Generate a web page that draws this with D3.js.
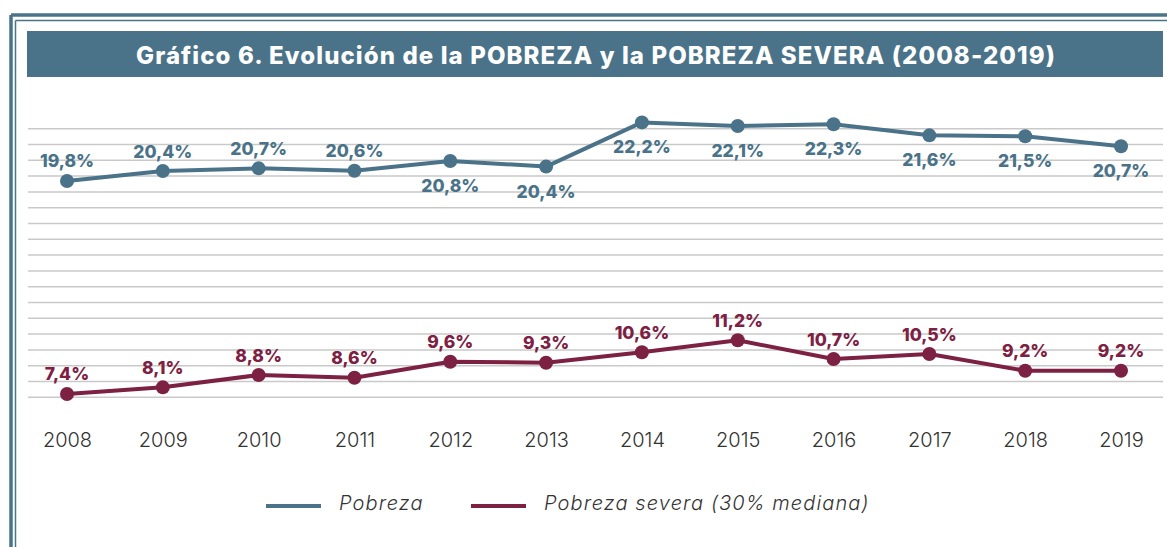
<!DOCTYPE html>
<html>
<head>
<meta charset="utf-8">
<script src="https://cdn.jsdelivr.net/npm/d3@7"></script>
<style>
  body { margin: 0; background: #fff; }
  svg { display: block; }
</style>
</head>
<body>
<svg id="chart" width="1167" height="547"></svg>
<script>
// years on the x axis
var years = ["2008", "2009", "2010", "2011", "2012", "2013", "2014", "2015", "2016", "2017", "2018", "2019"];

// printed labels
var pobreza = [19.8, 20.4, 20.7, 20.6, 20.8, 20.4, 22.2, 22.1, 22.3, 21.6, 21.5, 20.7];
var pobrezaSevera = [7.4, 8.1, 8.8, 8.6, 9.6, 9.3, 10.6, 11.2, 10.7, 10.5, 9.2, 9.2];

// where the points actually sit on the (hidden) grid
var pobrezaPlot = [19.69, 20.32, 20.49, 20.34, 20.96, 20.6, 23.4, 23.17, 23.28, 22.58, 22.52, 21.89];
var severaPlot = [6.21, 6.63, 7.41, 7.24, 8.25, 8.19, 8.85, 9.61, 8.42, 8.74, 7.68, 7.68];

// label above or below the point (upper series)
var pobrezaSide = ["above", "above", "above", "above", "below", "below", "below", "below", "below", "below", "below", "below"];

var legendNames = ["Pobreza", "Pobreza severa (30% mediana)"];
var title = "Gráfico 6. Evolución de la POBREZA y la POBREZA SEVERA (2008-2019)";

var blue = "#4a7389",
    wine = "#7d2143";

var svg = d3.select("#chart"),
    width = +svg.attr("width"),
    height = +svg.attr("height");

var x = d3.scalePoint().domain(years).range([67, 1121]),
    y = d3.scaleLinear().domain([6, 23]).range([397.3, 128.7]);

// frame (double line, top and left)
svg.append("line").attr("x1", 11).attr("x2", width).attr("y1", 15).attr("y2", 15)
    .attr("stroke", blue).attr("stroke-width", 3.5);
svg.append("line").attr("x1", 11).attr("x2", 11).attr("y1", 15).attr("y2", height)
    .attr("stroke", blue).attr("stroke-width", 3.5);
svg.append("line").attr("x1", 15.5).attr("x2", width).attr("y1", 20.5).attr("y2", 20.5)
    .attr("stroke", blue).attr("stroke-width", 1.5);
svg.append("line").attr("x1", 15.5).attr("x2", 15.5).attr("y1", 20.5).attr("y2", height)
    .attr("stroke", blue).attr("stroke-width", 1.5);

// title bar
svg.append("rect")
    .attr("x", 27).attr("y", 31)
    .attr("width", 1136).attr("height", 46)
    .attr("fill", blue);

svg.append("text")
    .attr("x", 596).attr("y", 63.5)
    .attr("text-anchor", "middle")
    .style("font-family", "Inter, sans-serif")
    .style("font-weight", "800")
    .style("font-size", "24px")
    .style("letter-spacing", "1.1px")
    .attr("fill", "#fff")
    .text(title);

// grid
svg.append("g")
    .attr("class", "grid")
    .selectAll("line")
    .data(y.ticks(17))
    .enter().append("line")
    .attr("x1", 28).attr("x2", 1163)
    .attr("y1", function(d) { return y(d); })
    .attr("y2", function(d) { return y(d); })
    .attr("stroke", "#c9c9c9")
    .attr("stroke-width", 1.5);

// x axis (labels only)
var xAxis = svg.append("g")
    .attr("transform", "translate(0,446.5)")
    .call(d3.axisBottom(x).tickSize(0).tickPadding(0));
xAxis.select(".domain").remove();
xAxis.selectAll("text")
    .attr("dy", 0)
    .style("font-family", "Inter, sans-serif")
    .style("font-weight", "300")
    .style("font-size", "20px")
    .attr("fill", "#333");

var line = d3.line()
    .x(function(d) { return x(d.year); })
    .y(function(d) { return y(d.pos); });

function series(plot, labels, side, color) {
    var data = years.map(function(yr, i) {
        return {year: yr, pos: plot[i], label: labels[i], side: side ? side[i] : "above"};
    });
    var g = svg.append("g");
    g.append("path")
        .datum(data)
        .attr("fill", "none")
        .attr("stroke", color)
        .attr("stroke-width", 4)
        .attr("stroke-linejoin", "round")
        .attr("d", line);
    g.selectAll("circle")
        .data(data)
        .enter().append("circle")
        .attr("cx", function(d) { return x(d.year); })
        .attr("cy", function(d) { return y(d.pos); })
        .attr("r", 7)
        .attr("fill", color);
    g.selectAll("text")
        .data(data)
        .enter().append("text")
        .attr("x", function(d) { return x(d.year); })
        .attr("y", function(d) { return y(d.pos) + (d.side == "above" ? -13.5 : 31); })
        .attr("text-anchor", "middle")
        .style("font-family", "Inter, sans-serif")
        .style("font-weight", "800")
        .style("font-size", "17.5px")
        .attr("fill", color)
        .text(function(d) { return d3.format(".1f")(d.label).replace(".", ",") + "%"; });
}

series(pobrezaPlot, pobreza, pobrezaSide, blue);
series(severaPlot, pobrezaSevera, null, wine);

// legend
var legend = svg.append("g")
    .selectAll("g")
    .data(legendNames)
    .enter().append("g")
    .attr("transform", function(d, i) { return "translate(" + (i == 0 ? 266 : 471) + ",506)"; });

legend.append("line")
    .attr("x1", 0).attr("x2", 55)
    .attr("stroke", function(d, i) { return i == 0 ? blue : wine; })
    .attr("stroke-width", 4);

legend.append("text")
    .attr("x", 73).attr("y", 4)
    .style("font-family", "Inter, sans-serif")
    .style("font-weight", "300")
    .style("font-style", "italic")
    .style("font-size", "20px")
    .style("letter-spacing", "1.1px")
    .attr("fill", "#333")
    .text(function(d) { return d; });
</script>
</body>
</html>
